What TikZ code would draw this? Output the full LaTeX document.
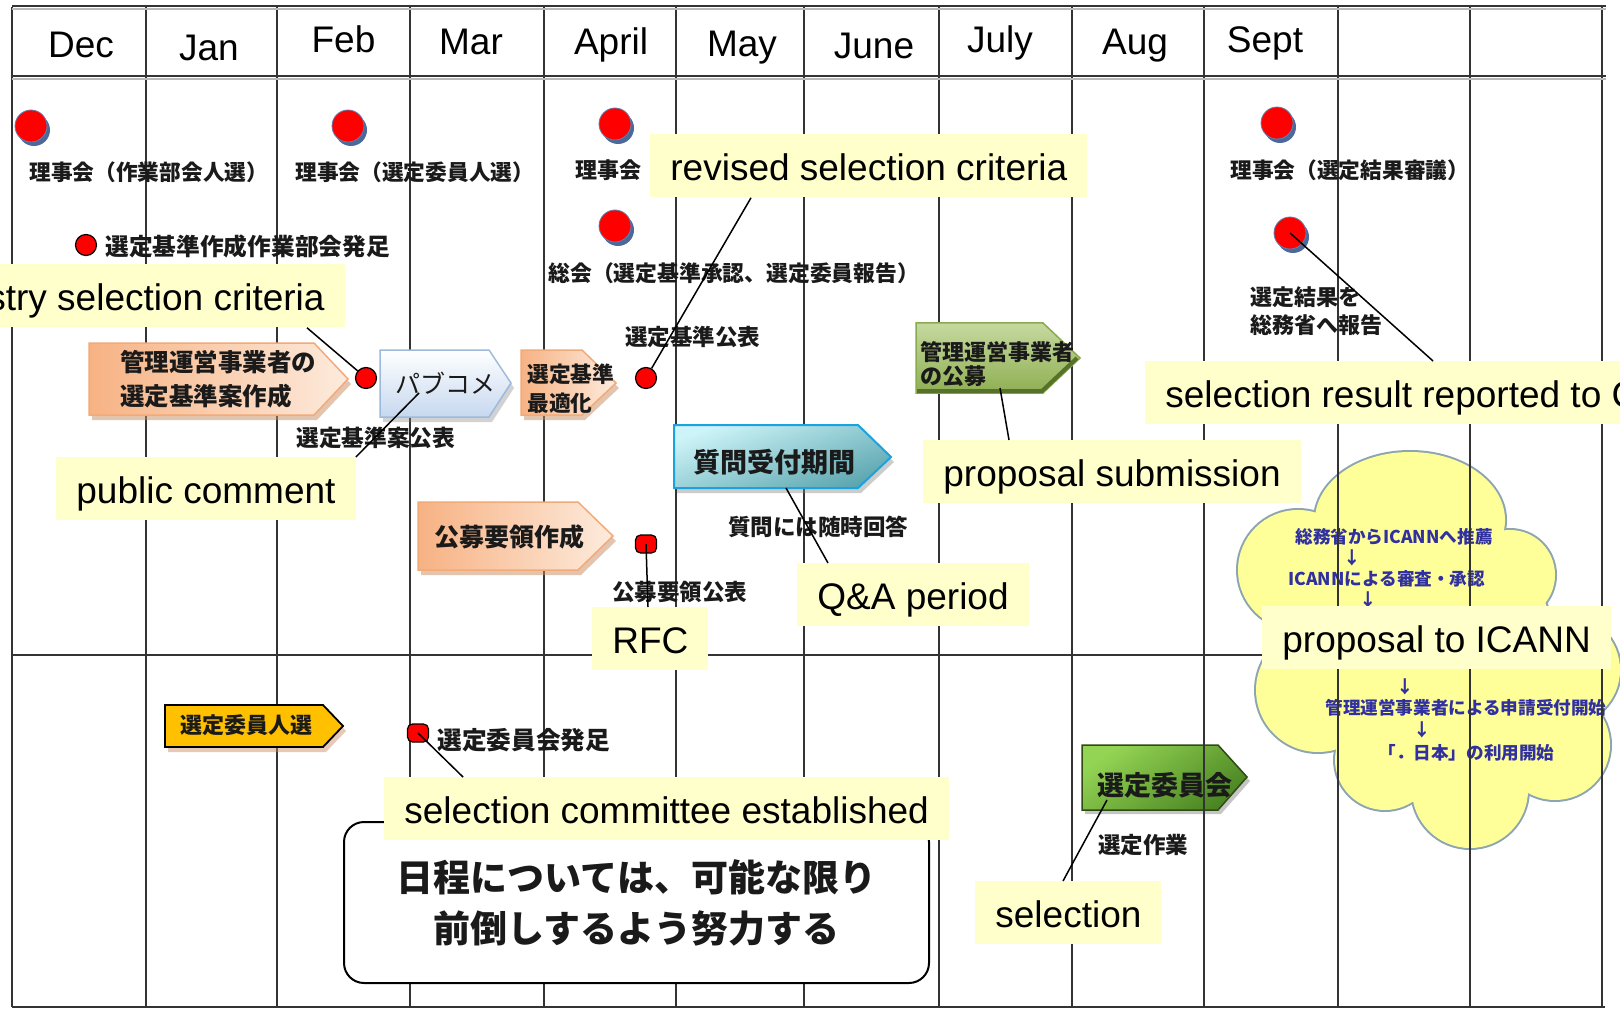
\documentclass[tikz,border=0pt]{standalone}
\usepackage{fontspec}
\setmainfont{Liberation Sans}
\newfontfamily\jp{Noto Sans CJK JP}
\usetikzlibrary{calc}
\definecolor{lblfill}{HTML}{FFFFCC}
\definecolor{gridc}{HTML}{333333}
\definecolor{cloudfill}{HTML}{FFFF99}
\definecolor{cloudline}{HTML}{8CA5B0}
\definecolor{cloudtext}{HTML}{3030A0}
\definecolor{dotred}{HTML}{FF0000}
\definecolor{dotshadow}{HTML}{4B6A9B}
\definecolor{dotedge}{HTML}{6080B0}
\definecolor{jtext}{HTML}{1A1A1A}
\definecolor{orL}{HTML}{F7B283}
\definecolor{orR}{HTML}{FDEBDD}
\definecolor{orB}{HTML}{F2AA78}
\definecolor{orS}{HTML}{C98A60}
\definecolor{pfB}{HTML}{9DB9DC}
\definecolor{pfBot}{HTML}{C6D8EF}
\definecolor{cyT}{HTML}{CDF4F8}
\definecolor{cyBot}{HTML}{5CA6B0}
\definecolor{cyB}{HTML}{1AA3DC}
\definecolor{gfT}{HTML}{C6D9A0}
\definecolor{gfBot}{HTML}{8FAF52}
\definecolor{gfB}{HTML}{8AAA4E}
\definecolor{gfD}{HTML}{56722A}
\definecolor{ylw}{HTML}{FFC000}
\definecolor{ghT}{HTML}{94D454}
\definecolor{ghBot}{HTML}{4A8522}
\definecolor{ghB}{HTML}{2F4A14}
\newcommand\jfs[2]{\jp\bfseries\fontsize{#1}{#2}\selectfont}
\newcommand\jfr[2]{\jp\fontsize{#1}{#2}\selectfont}
\begin{document}
\begin{tikzpicture}[x=0.5pt,y=-0.5pt,
  lbl/.style={fill=lblfill, inner xsep=10pt, inner ysep=0pt, text height=23pt, text depth=8.5pt, font=\fontsize{18.5pt}{22pt}\selectfont},
  jt/.style={inner sep=0pt, anchor=west, text=jtext},
  month/.style={anchor=base, inner sep=0pt, font=\fontsize{18.5pt}{22pt}\selectfont},
  bigdot/.style={circle, fill=dotred, draw=dotedge, line width=0.4pt, minimum size=16pt, inner sep=0pt},
  smalldot/.style={circle, fill=dotred, draw=black, line width=0.6pt, minimum size=10.5pt, inner sep=0pt},
  sqdot/.style={rectangle, rounded corners=2.5pt, fill=dotred, draw=black, line width=0.6pt, minimum width=10.5pt, minimum height=9pt, inner sep=0pt},
  conn/.style={draw=black, line width=0.75pt},
  gridl/.style={draw=gridc, line width=1pt},
  cloudt/.style={inner sep=0pt, text=cloudtext, font=\jfs{8.8pt}{10pt}},
]
\useasboundingbox (0,0) rectangle (1620,1010);
\fill[white] (0,0) rectangle (1620,1010);
\clip (0,0) rectangle (1620,1010);

% ---- cloud ----
\foreach \cx/\cy/\rx/\ry in {1410/520/95/68, 1298/570/60/60, 1318/690/62/62, 1385/760/50/50, 1470/790/58/58, 1555/745/55/55, 1565/670/55/55, 1510/575/45/45, 1430/655/125/135}
  \draw[cloudline, line width=2pt] (\cx,\cy) ellipse [x radius=\rx, y radius=\ry];
\foreach \cx/\cy/\rx/\ry in {1410/520/95/68, 1298/570/60/60, 1318/690/62/62, 1385/760/50/50, 1470/790/58/58, 1555/745/55/55, 1565/670/55/55, 1510/575/45/45, 1430/655/125/135}
  \fill[cloudfill] (\cx,\cy) ellipse [x radius=\rx, y radius=\ry];
\node[cloudt, anchor=west] (c1) at (1295,537) {総務省からICANNへ推薦};
\node[cloudt] (c2) at (1352,558) {↓};
\node[cloudt, anchor=west] (c3) at (1288,579) {ICANNによる審査・承認};
\node[cloudt] (c4) at (1368,600) {↓};
\node[cloudt] (c5) at (1405,687) {↓};
\node[cloudt, anchor=west] (c6) at (1325,708) {管理運営事業者による申請受付開始};
\node[cloudt] (c7) at (1422,730) {↓};
\node[cloudt, anchor=west] (c8) at (1378,753) {「．日本」の利用開始};

% ---- green arrow under grid ----
\fill[gray, opacity=.45] (1085,749) -- (1221,749) -- (1250,781) -- (1221,814) -- (1085,814) -- cycle;
\path[draw=ghB, line width=0.75pt, top color=ghT, bottom color=ghBot, shading angle=35] (1082,745) -- (1218,745) -- (1247,777) -- (1218,810) -- (1082,810) -- cycle;
\node[jt, font=\jfs{13.5pt}{15pt}] (tH) at (1097,785) {選定委員会};

% ---- grid ----
\foreach \x in {12,146,277,410,544,676,804,939,1072,1204,1338,1470,1602}
  \draw[gridl] (\x,7) -- (\x,1007);
\draw[gridl] (12,655) -- (1605,655);
\draw[gridl] (12,1007) -- (1605,1007);
\draw[gridc, line width=1.2pt] (12,6) -- (1606,6);
\draw[gray!55, line width=1pt] (12,9.5) -- (1606,9.5);
\draw[gridc, line width=1.2pt] (12,76) -- (1606,76);
\draw[gray!55, line width=1pt] (12,79.5) -- (1606,79.5);

% ---- months ----
\node[month] (mDec) at (81,58) {Dec};
\node[month] (mJan) at (209,61) {Jan};
\node[month] (mFeb) at (343.5,53) {Feb};
\node[month] (mMar) at (471,55) {Mar};
\node[month] (mApr) at (611,55) {April};
\node[month] (mMay) at (742,57) {May};
\node[month] (mJun) at (874,59) {June};
\node[month] (mJul) at (1000,53) {July};
\node[month] (mAug) at (1135,55) {Aug};
\node[month] (mSep) at (1265,53) {Sept};

% ---- arrow shapes ----
% A orange
\fill[orS, opacity=.5] (92,348) -- (317,348) -- (351,384) -- (317,420) -- (92,420) -- cycle;
\path[draw=orB, line width=0.75pt, left color=orL, right color=orR] (89,343) -- (314,343) -- (348,379) -- (314,415) -- (89,415) -- cycle;
\node[jt, align=left, font=\jfs{12.25pt}{17pt}] (tA) at (120,379) {管理運営事業者の\\選定基準案作成};
% Pafu
\fill[gray, opacity=.35] (383,355) -- (492,355) -- (514,388) -- (492,422) -- (383,422) -- cycle;
\path[draw=pfB, line width=0.75pt, top color=white, bottom color=pfBot] (380,350) -- (489,350) -- (511,383) -- (489,417) -- (380,417) -- cycle;
\node[jt, font=\jfr{12.5pt}{14pt}] (tPafu) at (395,383) {パブコメ};
% C orange
\fill[orS, opacity=.5] (524,355) -- (585,355) -- (619,388) -- (585,420) -- (524,420) -- cycle;
\path[draw=orB, line width=0.75pt, left color=orL, right color=orR] (521,350) -- (582,350) -- (616,383) -- (582,415) -- (521,415) -- cycle;
\node[jt, align=left, font=\jfs{10.85pt}{14.5pt}] (tC) at (527,388.5) {選定基準\\最適化};
% D orange
\fill[orS, opacity=.5] (421,507) -- (581,507) -- (616,541) -- (581,575) -- (421,575) -- cycle;
\path[draw=orB, line width=0.75pt, left color=orL, right color=orR] (418,502) -- (578,502) -- (613,536) -- (578,570) -- (418,570) -- cycle;
\node[jt, font=\jfs{12.5pt}{14pt}] (tD) at (434,537) {公募要領作成};
% E cyan
\fill[gray, opacity=.4] (677,430) -- (861,430) -- (894,462) -- (861,493) -- (677,493) -- cycle;
\path[draw=cyB, line width=1pt, top color=cyT, bottom color=cyBot, shading angle=20] (674,425) -- (858,425) -- (891,457) -- (858,488) -- (674,488) -- cycle;
\node[jt, font=\jfs{13.5pt}{15pt}] (tE) at (693,462) {質問受付期間};
% F green
\path[draw=gfB, line width=0.75pt, top color=gfT, bottom color=gfBot] (916,323) -- (1043,323) -- (1080,358) -- (1043,393) -- (916,393) -- cycle;
\draw[gfD, line width=2pt] (917,391) -- (1042,391) -- (1077,358);
\node[jt, align=left, font=\jfs{11pt}{12.2pt}] (tF) at (920,364) {管理運営事業者\\の公募};
% G yellow
\fill[orS, opacity=.45] (168,710) -- (326,710) -- (346,731) -- (326,752) -- (168,752) -- cycle;
\path[draw=black, line width=0.9pt, fill=ylw] (165,705) -- (323,705) -- (343,726) -- (323,747) -- (165,747) -- cycle;
\node[jt, font=\jfs{11pt}{13pt}] (tG) at (180,725) {選定委員人選};

% ---- plain texts ----
\node[jt, font=\jfs{10.85pt}{13pt}] (t1) at (29,172) {理事会（作業部会人選）};
\node[jt, font=\jfs{10.85pt}{13pt}] (t2) at (295,172) {理事会（選定委員人選）};
\node[jt, font=\jfs{11.85pt}{14pt}] (t3) at (105,246) {選定基準作成作業部会発足};
\node[jt, font=\jfs{11pt}{13pt}] (t4) at (575,170) {理事会};
\node[jt, font=\jfs{10.9pt}{13pt}] (t5) at (548,273) {総会（選定基準承認、選定委員報告）};
\node[jt, font=\jfs{11.25pt}{13pt}] (t6) at (625,337) {選定基準公表};
\node[jt, font=\jfs{11.35pt}{13pt}] (t7) at (296,438) {選定基準案公表};
\node[jt, font=\jfs{11.25pt}{13pt}] (t8) at (728,527) {質問には随時回答};
\node[jt, font=\jfs{11.25pt}{13pt}] (t9) at (612,592) {公募要領公表};
\node[jt, font=\jfs{10.85pt}{13pt}] (t10) at (1230,170) {理事会（選定結果審議）};
\node[jt, align=left, font=\jfs{11pt}{14pt}] (t11) at (1250,311) {選定結果を\\総務省へ報告};
\node[jt, font=\jfs{12.35pt}{14pt}] (t12) at (437,740) {選定委員会発足};
\node[jt, font=\jfs{11.25pt}{13pt}] (t13) at (1098,845) {選定作業};

% ---- dots ----
\foreach \px/\py in {31/126, 348/126, 615/124, 615/226, 1277/123, 1290/233}
  \fill[dotshadow] (\px+3,\py+4) circle [radius=16];
\node[bigdot] (dDec) at (31,126) {};
\node[bigdot] (dFeb) at (348,126) {};
\node[bigdot] (dApr1) at (615,124) {};
\node[bigdot] (dApr2) at (615,226) {};
\node[bigdot] (dSep1) at (1277,123) {};
\node[bigdot] (dSep2) at (1290,233) {};
\node[smalldot] (dWG) at (86,245) {};
\node[smalldot] (dPub) at (366,378) {};
\node[smalldot] (dStd) at (646,378) {};
\node[sqdot] (dRfp) at (646,544) {};
\node[sqdot] (dCom) at (418,733) {};

% ---- note box ----
\node[draw=black, line width=1pt, fill=white, rounded corners=10pt, minimum width=292.5pt, minimum height=80.5pt, inner sep=0pt, align=center, text=jtext, font=\jfs{18.5pt}{25.5pt}] (note) at (636.5,902.5) {日程については、可能な限り\\前倒しするよう努力する};

% ---- connector anchor points ----
\coordinate (cF) at (1000,388);
\coordinate (cE) at (786,488);
\coordinate (cH) at (1107,800);

% ---- labels ----
\node[lbl, anchor=north west] (lbrev) at (650,134) {revised selection criteria};
\node[lbl, anchor=north east] (lbreg) at (345,264) {registry selection criteria};
\node[lbl, anchor=north west] (lbpub) at (56,457) {public comment};
\node[lbl, anchor=north west] (lbprop) at (923,440) {proposal submission};
\node[lbl, anchor=north west] (lbres) at (1145,361) {selection result reported to C};
\node[lbl, anchor=north west] (lbqa) at (797,563) {Q\&A period};
\node[lbl, anchor=north west] (lbrfc) at (592,607) {RFC};
\node[lbl, anchor=north west] (lbicann) at (1262,606) {proposal to ICANN};
\node[lbl, anchor=north west] (lbsce) at (384,777) {selection committee established};
\node[lbl, anchor=north west] (lbsel) at (975,881) {selection};

% ---- connectors ----
\draw[conn] ($(lbrev.south west)+(101,0)$) -- (dStd);
\draw[conn] ($(lbreg.south east)+(-38,0)$) -- (dPub);
\draw[conn] (lbpub.north east) -- ($(tPafu.west)+(24,10)$);
\draw[conn] (dSep2.center) -- ($(lbres.north west)+(288,0)$);
\draw[conn] (cF) -- ($(lbprop.north west)+(86,0)$);
\draw[conn] (cE) -- ($(lbqa.north west)+(31,0)$);
\draw[conn] (dRfp.center) -- ($(lbrfc.north west)+(56,0)$);
\draw[conn] (dCom.center) -- ($(lbsce.north west)+(79,0)$);
\draw[conn] (cH) -- ($(lbsel.north west)+(88,0)$);
\end{tikzpicture}
\end{document}
